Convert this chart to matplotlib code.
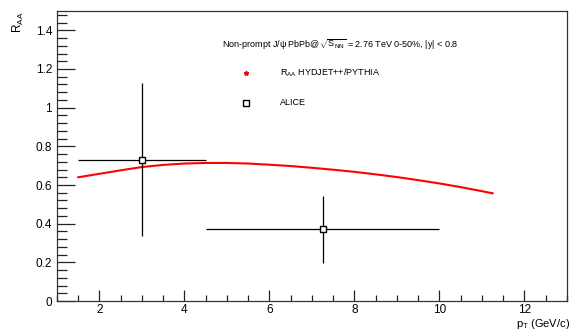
import matplotlib
matplotlib.use('Agg')
import matplotlib.pyplot as plt
from matplotlib.ticker import MultipleLocator

plt.rcParams['font.family'] = ['Liberation Sans', 'DejaVu Sans']
plt.rcParams['mathtext.fontset'] = 'custom'
plt.rcParams['mathtext.rm'] = 'Liberation Sans'
plt.rcParams['mathtext.it'] = 'Liberation Sans'

# HYDJET++/PYTHIA curve
pt_model = [1.5, 2, 2.5, 3, 3.5, 4, 4.5, 5, 5.5, 6, 6.5, 7, 7.5, 8, 8.5, 9,
            9.5, 10, 10.5, 11, 11.25]
raa_model = [0.640, 0.658, 0.676, 0.693, 0.704, 0.711, 0.714, 0.714, 0.711,
             0.705, 0.698, 0.689, 0.679, 0.668, 0.655, 0.641, 0.625, 0.608,
             0.589, 0.568, 0.557]

# ALICE points
pt_alice = [3.0, 7.25]
pt_err_lo = [1.5, 2.75]
pt_err_hi = [1.5, 2.75]
raa_alice = [0.73, 0.37]
raa_err_lo = [0.395, 0.175]
raa_err_hi = [0.395, 0.175]

fig = plt.figure(figsize=(5.74, 3.31), dpi=100)
ax = fig.add_axes([0.0993, 0.0906, 0.8885, 0.8762])

ax.plot(pt_model, raa_model, color='red', lw=1.5)
ax.errorbar(pt_alice, raa_alice, xerr=[pt_err_lo, pt_err_hi],
            yerr=[raa_err_lo, raa_err_hi], fmt='s', ms=5, mfc='white',
            mec='black', mew=1.0, ecolor='black', elinewidth=0.9, capsize=0)

ax.set_xlim(1.0, 13.0)
ax.set_ylim(0, 1.5)
ax.xaxis.set_minor_locator(MultipleLocator(0.5))
ax.yaxis.set_minor_locator(MultipleLocator(0.04))
ax.set_yticks([0, 0.2, 0.4, 0.6, 0.8, 1.0, 1.2, 1.4])
ax.set_yticklabels(['0', '0.2', '0.4', '0.6', '0.8', '1', '1.2', '1.4'])
ax.set_xticks([2, 4, 6, 8, 10, 12])
ax.tick_params(which='both', direction='in', top=False, right=False,
               labelsize=8.5, width=0.9, color='#222222')
ax.tick_params(axis='y', which='major', length=13)
ax.tick_params(axis='y', which='minor', length=7)
ax.tick_params(axis='x', which='major', length=8)
ax.tick_params(axis='x', which='minor', length=4)
ax.tick_params(axis='x', pad=2)
for s in ax.spines.values():
    s.set_linewidth(0.9)
    s.set_color('#333333')

fig.text(0.032, 0.965, r'$\mathregular{R_{AA}}$', rotation=90, ha='center',
         va='top', fontsize=8.5)
fig.text(0.993, 0.0, r'$\mathregular{p_{T}}$ (GeV/c)', ha='right',
         va='bottom', fontsize=8)

ax.text(0.324, 0.883,
        r'Non-prompt J/$\psi$ PbPb@$\sqrt{\mathregular{S_{NN}}}$ = 2.76 TeV 0-50%, |y| < 0.8',
        transform=ax.transAxes, fontsize=6.5, va='center', ha='left')
ax.plot([0.37], [0.786], transform=ax.transAxes, marker='*', color='red',
        ms=3.5, ls='none')
ax.text(0.437, 0.786, r'$\mathregular{R_{AA}}$ HYDJET++/PYTHIA',
        transform=ax.transAxes, fontsize=6.5, va='center', ha='left')
ax.plot([0.37], [0.683], transform=ax.transAxes, marker='s', mfc='white',
        mec='black', mew=1.0, ms=4.5, ls='none')
ax.text(0.437, 0.683, 'ALICE', transform=ax.transAxes, fontsize=6.5,
        va='center', ha='left')

fig.savefig('out.png', dpi=100)
